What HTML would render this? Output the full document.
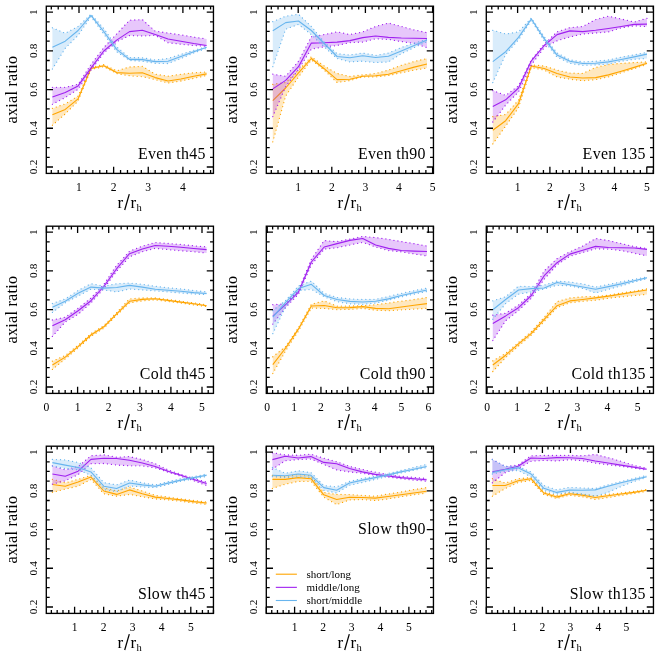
<!DOCTYPE html>
<html><head><meta charset="utf-8"><title>axial ratio</title>
<style>
html,body{margin:0;padding:0;background:#fff;}
svg{display:block;font-family:"Liberation Serif",serif;will-change:transform;}
text{fill:#000;}
</style></head>
<body>
<svg width="660" height="660" viewBox="0 0 660 660">
<rect width="660" height="660" fill="#fff"/>
<g transform="translate(0,0)">
<polygon points="52.4,108.4 65.25,103.9 78.1,96.1 90.95,67.4 103.8,64.6 116.65,70.8 129.5,67 142.35,66.3 155.2,74.2 168.05,76.2 180.9,74.2 193.75,72.8 206.6,71.9 206.6,75.5 193.75,78.3 180.9,81 168.05,83 155.2,79.6 142.35,76.6 129.5,75.8 116.65,73.5 103.8,66.7 90.95,69.5 78.1,100.9 65.25,113.9 52.4,125.2" fill="#ffa500" fill-opacity="0.25"/>
<polyline points="52.4,108.4 65.25,103.9 78.1,96.1 90.95,67.4 103.8,64.6 116.65,70.8 129.5,67 142.35,66.3 155.2,74.2 168.05,76.2 180.9,74.2 193.75,72.8 206.6,71.9" fill="none" stroke="#ffa500" stroke-width="1.28" stroke-dasharray="0.01 4.05" stroke-linecap="round"/>
<polyline points="52.4,125.2 65.25,113.9 78.1,100.9 90.95,69.5 103.8,66.7 116.65,73.5 129.5,75.8 142.35,76.6 155.2,79.6 168.05,83 180.9,81 193.75,78.3 206.6,75.5" fill="none" stroke="#ffa500" stroke-width="1.28" stroke-dasharray="0.01 4.05" stroke-linecap="round"/>
<polyline points="52.4,114.8 65.25,109.4 78.1,98.9 90.95,68.5 103.8,65.7 116.65,72.6 129.5,73.3 142.35,72.8 155.2,77.6 168.05,81 180.9,79 193.75,76.2 206.6,73.9" fill="none" stroke="#ffa500" stroke-width="1.1" stroke-linejoin="round"/>
<polygon points="52.4,87.3 65.25,87.3 78.1,84.3 90.95,64.6 103.8,47.6 116.65,34 129.5,20.3 142.35,19.6 155.2,31.2 168.05,33 180.9,34.9 193.75,37.1 206.6,39 206.6,46.2 193.75,45.5 180.9,44.2 168.05,42.8 155.2,35.3 142.35,36 129.5,35.6 116.65,41.7 103.8,53 90.95,70.2 78.1,89.3 65.25,97.5 52.4,104.3" fill="#a020f0" fill-opacity="0.25"/>
<polyline points="52.4,87.3 65.25,87.3 78.1,84.3 90.95,64.6 103.8,47.6 116.65,34 129.5,20.3 142.35,19.6 155.2,31.2 168.05,33 180.9,34.9 193.75,37.1 206.6,39" fill="none" stroke="#a020f0" stroke-width="1.28" stroke-dasharray="0.01 4.05" stroke-linecap="round"/>
<polyline points="52.4,104.3 65.25,97.5 78.1,89.3 90.95,70.2 103.8,53 116.65,41.7 129.5,35.6 142.35,36 155.2,35.3 168.05,42.8 180.9,44.2 193.75,45.5 206.6,46.2" fill="none" stroke="#a020f0" stroke-width="1.28" stroke-dasharray="0.01 4.05" stroke-linecap="round"/>
<polyline points="52.4,97.1 65.25,92.5 78.1,85.9 90.95,68.1 103.8,51 116.65,40.1 129.5,31.6 142.35,30.3 155.2,34.6 168.05,39 180.9,41.2 193.75,43.5 206.6,45.5" fill="none" stroke="#a020f0" stroke-width="1.1" stroke-linejoin="round"/>
<polygon points="52.4,27.8 65.25,33.3 78.1,26.5 90.95,14.2 103.8,28.5 116.65,46.9 129.5,57.6 142.35,57.8 155.2,59.9 168.05,58.5 180.9,54.4 193.75,50.3 206.6,46.9 206.6,48.3 193.75,53 180.9,58.5 168.05,63.5 155.2,63.3 142.35,61.2 129.5,60.4 116.65,51.7 103.8,34 90.95,16.6 78.1,35.3 65.25,48.3 52.4,69" fill="#68b5ee" fill-opacity="0.25"/>
<polyline points="52.4,27.8 65.25,33.3 78.1,26.5 90.95,14.2 103.8,28.5 116.65,46.9 129.5,57.6 142.35,57.8 155.2,59.9 168.05,58.5 180.9,54.4 193.75,50.3 206.6,46.9" fill="none" stroke="#68b5ee" stroke-width="1.28" stroke-dasharray="0.01 4.05" stroke-linecap="round"/>
<polyline points="52.4,69 65.25,48.3 78.1,35.3 90.95,16.6 103.8,34 116.65,51.7 129.5,60.4 142.35,61.2 155.2,63.3 168.05,63.5 180.9,58.5 193.75,53 206.6,48.3" fill="none" stroke="#68b5ee" stroke-width="1.28" stroke-dasharray="0.01 4.05" stroke-linecap="round"/>
<polyline points="52.4,47.3 65.25,41.2 78.1,30.5 90.95,15.3 103.8,31.5 116.65,49.4 129.5,59.4 142.35,59.6 155.2,61.6 168.05,61.2 180.9,56.5 193.75,51.7 206.6,47.3" fill="none" stroke="#68b5ee" stroke-width="1.1" stroke-linejoin="round"/>
<path d="M46.3 166.98h6.7M213.45 166.98h-6.7M46.3 157.3h3.4M213.45 157.3h-3.4M46.3 147.62h3.4M213.45 147.62h-3.4M46.3 137.94h3.4M213.45 137.94h-3.4M46.3 128.26h6.7M213.45 128.26h-6.7M46.3 118.58h3.4M213.45 118.58h-3.4M46.3 108.9h3.4M213.45 108.9h-3.4M46.3 99.22h3.4M213.45 99.22h-3.4M46.3 89.54h6.7M213.45 89.54h-6.7M46.3 79.86h3.4M213.45 79.86h-3.4M46.3 70.18h3.4M213.45 70.18h-3.4M46.3 60.5h3.4M213.45 60.5h-3.4M46.3 50.82h6.7M213.45 50.82h-6.7M46.3 41.14h3.4M213.45 41.14h-3.4M46.3 31.46h3.4M213.45 31.46h-3.4M46.3 21.78h3.4M213.45 21.78h-3.4M46.3 12.1h6.7M213.45 12.1h-6.7M51.3 173.4v-3.4M51.3 6.2v3.4M58.22 173.4v-3.4M58.22 6.2v3.4M65.15 173.4v-3.4M65.15 6.2v3.4M72.07 173.4v-3.4M72.07 6.2v3.4M79 173.4v-6.7M79 6.2v6.7M85.93 173.4v-3.4M85.93 6.2v3.4M92.85 173.4v-3.4M92.85 6.2v3.4M99.78 173.4v-3.4M99.78 6.2v3.4M106.7 173.4v-3.4M106.7 6.2v3.4M113.63 173.4v-6.7M113.63 6.2v6.7M120.56 173.4v-3.4M120.56 6.2v3.4M127.48 173.4v-3.4M127.48 6.2v3.4M134.41 173.4v-3.4M134.41 6.2v3.4M141.33 173.4v-3.4M141.33 6.2v3.4M148.26 173.4v-6.7M148.26 6.2v6.7M155.19 173.4v-3.4M155.19 6.2v3.4M162.11 173.4v-3.4M162.11 6.2v3.4M169.04 173.4v-3.4M169.04 6.2v3.4M175.96 173.4v-3.4M175.96 6.2v3.4M182.89 173.4v-6.7M182.89 6.2v6.7M189.82 173.4v-3.4M189.82 6.2v3.4M196.74 173.4v-3.4M196.74 6.2v3.4M203.67 173.4v-3.4M203.67 6.2v3.4M210.59 173.4v-3.4M210.59 6.2v3.4" stroke="#000" stroke-width="1.3" fill="none"/>
<rect x="46.3" y="6.2" width="167.15" height="167.2" fill="none" stroke="#000" stroke-width="1.35"/>
<text transform="translate(37.0,12.1) rotate(-90)" text-anchor="middle" font-size="11.3" >1</text>
<text transform="translate(37.0,50.82) rotate(-90)" text-anchor="middle" font-size="11.3" textLength="14.55" lengthAdjust="spacing">0.8</text>
<text transform="translate(37.0,89.54) rotate(-90)" text-anchor="middle" font-size="11.3" textLength="14.55" lengthAdjust="spacing">0.6</text>
<text transform="translate(37.0,128.26) rotate(-90)" text-anchor="middle" font-size="11.3" textLength="14.55" lengthAdjust="spacing">0.4</text>
<text transform="translate(37.0,166.98) rotate(-90)" text-anchor="middle" font-size="11.3" textLength="14.55" lengthAdjust="spacing">0.2</text>
<text x="79" y="190.8" text-anchor="middle" font-size="11.6">1</text>
<text x="113.63" y="190.8" text-anchor="middle" font-size="11.6">2</text>
<text x="148.26" y="190.8" text-anchor="middle" font-size="11.6">3</text>
<text x="182.89" y="190.8" text-anchor="middle" font-size="11.6">4</text>
<text transform="translate(17.0,89.7) rotate(-90)" text-anchor="middle" font-size="16.2" textLength="67.63" lengthAdjust="spacing">axial ratio</text>
<g font-size="17"><text x="117.5" y="207.7">r</text><path d="M124.7 210L129.3 194.2" stroke="#000" stroke-width="1.25" fill="none"/><text x="130.6" y="207.7">r</text><text x="136.5" y="210.6" font-size="10.6">h</text></g>
<text x="205.4" y="158.7" text-anchor="end" font-size="15.9" textLength="67.38" lengthAdjust="spacing">Even th45</text>
</g>
<g transform="translate(220,0)">
<polygon points="52.8,84.3 65.65,82.5 78.5,70.2 91.35,56.7 104.2,66 117.05,73.5 129.9,76.5 142.75,74.9 155.6,73.5 168.45,70.1 181.3,65.3 194.15,61.6 207,58.5 207,68 194.15,70.1 181.3,72.8 168.45,75.5 155.6,76.9 142.75,76.9 129.9,80.6 117.05,82.4 104.2,70.1 91.35,59.9 78.5,77 65.65,96.1 52.8,141.8" fill="#ffa500" fill-opacity="0.25"/>
<polyline points="52.8,84.3 65.65,82.5 78.5,70.2 91.35,56.7 104.2,66 117.05,73.5 129.9,76.5 142.75,74.9 155.6,73.5 168.45,70.1 181.3,65.3 194.15,61.6 207,58.5" fill="none" stroke="#ffa500" stroke-width="1.28" stroke-dasharray="0.01 4.05" stroke-linecap="round"/>
<polyline points="52.8,141.8 65.65,96.1 78.5,77 91.35,59.9 104.2,70.1 117.05,82.4 129.9,80.6 142.75,76.9 155.6,76.9 168.45,75.5 181.3,72.8 194.15,70.1 207,68" fill="none" stroke="#ffa500" stroke-width="1.28" stroke-dasharray="0.01 4.05" stroke-linecap="round"/>
<polyline points="52.8,100.6 65.65,88 78.5,72.9 91.35,58.5 104.2,68.7 117.05,79.6 129.9,79.3 142.75,76.2 155.6,75.8 168.45,74.2 181.3,70.8 194.15,67.1 207,64" fill="none" stroke="#ffa500" stroke-width="1.1" stroke-linejoin="round"/>
<polygon points="52.8,74.2 65.65,76.3 78.5,61.3 91.35,36.7 104.2,34.6 117.05,31.9 129.9,34.5 142.75,31.9 155.6,26.5 168.45,23 181.3,26.5 194.15,29.9 207,32.6 207,47.6 194.15,43.5 181.3,41.5 168.45,39.4 155.6,38.7 142.75,42.1 129.9,42.5 117.05,45.5 104.2,46.9 91.35,49 78.5,69.5 65.65,86.6 52.8,116.6" fill="#a020f0" fill-opacity="0.25"/>
<polyline points="52.8,74.2 65.65,76.3 78.5,61.3 91.35,36.7 104.2,34.6 117.05,31.9 129.9,34.5 142.75,31.9 155.6,26.5 168.45,23 181.3,26.5 194.15,29.9 207,32.6" fill="none" stroke="#a020f0" stroke-width="1.28" stroke-dasharray="0.01 4.05" stroke-linecap="round"/>
<polyline points="52.8,116.6 65.65,86.6 78.5,69.5 91.35,49 104.2,46.9 117.05,45.5 129.9,42.5 142.75,42.1 155.6,38.7 168.45,39.4 181.3,41.5 194.15,43.5 207,47.6" fill="none" stroke="#a020f0" stroke-width="1.28" stroke-dasharray="0.01 4.05" stroke-linecap="round"/>
<polyline points="52.8,88.9 65.65,80.4 78.5,66.7 91.35,43.1 104.2,42.8 117.05,42.1 129.9,40.6 142.75,37.6 155.6,36 168.45,37.4 181.3,38 194.15,38.3 207,38.5" fill="none" stroke="#a020f0" stroke-width="1.1" stroke-linejoin="round"/>
<polygon points="52.8,21.7 65.65,16.2 78.5,14.2 91.35,26.5 104.2,42.1 117.05,53.7 129.9,55 142.75,53 155.6,55.4 168.45,53 181.3,47.6 194.15,43.1 207,39.4 207,41.7 194.15,47.6 181.3,53.7 168.45,61.9 155.6,62.6 142.75,61.2 129.9,61.9 117.05,58.5 104.2,46.9 91.35,34.6 78.5,24.4 65.65,29.2 52.8,66.7" fill="#68b5ee" fill-opacity="0.25"/>
<polyline points="52.8,21.7 65.65,16.2 78.5,14.2 91.35,26.5 104.2,42.1 117.05,53.7 129.9,55 142.75,53 155.6,55.4 168.45,53 181.3,47.6 194.15,43.1 207,39.4" fill="none" stroke="#68b5ee" stroke-width="1.28" stroke-dasharray="0.01 4.05" stroke-linecap="round"/>
<polyline points="52.8,66.7 65.65,29.2 78.5,24.4 91.35,34.6 104.2,46.9 117.05,58.5 129.9,61.9 142.75,61.2 155.6,62.6 168.45,61.9 181.3,53.7 194.15,47.6 207,41.7" fill="none" stroke="#68b5ee" stroke-width="1.28" stroke-dasharray="0.01 4.05" stroke-linecap="round"/>
<polyline points="52.8,30.8 65.65,22.6 78.5,21 91.35,30.5 104.2,43.5 117.05,56.5 129.9,57.8 142.75,55.8 155.6,57.5 168.45,56.2 181.3,51 194.15,45.5 207,40.1" fill="none" stroke="#68b5ee" stroke-width="1.1" stroke-linejoin="round"/>
<path d="M46.3 166.98h6.7M213.45 166.98h-6.7M46.3 157.3h3.4M213.45 157.3h-3.4M46.3 147.62h3.4M213.45 147.62h-3.4M46.3 137.94h3.4M213.45 137.94h-3.4M46.3 128.26h6.7M213.45 128.26h-6.7M46.3 118.58h3.4M213.45 118.58h-3.4M46.3 108.9h3.4M213.45 108.9h-3.4M46.3 99.22h3.4M213.45 99.22h-3.4M46.3 89.54h6.7M213.45 89.54h-6.7M46.3 79.86h3.4M213.45 79.86h-3.4M46.3 70.18h3.4M213.45 70.18h-3.4M46.3 60.5h3.4M213.45 60.5h-3.4M46.3 50.82h6.7M213.45 50.82h-6.7M46.3 41.14h3.4M213.45 41.14h-3.4M46.3 31.46h3.4M213.45 31.46h-3.4M46.3 21.78h3.4M213.45 21.78h-3.4M46.3 12.1h6.7M213.45 12.1h-6.7M51.32 173.4v-3.4M51.32 6.2v3.4M58.04 173.4v-3.4M58.04 6.2v3.4M64.76 173.4v-3.4M64.76 6.2v3.4M71.48 173.4v-3.4M71.48 6.2v3.4M78.2 173.4v-6.7M78.2 6.2v6.7M84.92 173.4v-3.4M84.92 6.2v3.4M91.64 173.4v-3.4M91.64 6.2v3.4M98.36 173.4v-3.4M98.36 6.2v3.4M105.08 173.4v-3.4M105.08 6.2v3.4M111.8 173.4v-6.7M111.8 6.2v6.7M118.52 173.4v-3.4M118.52 6.2v3.4M125.24 173.4v-3.4M125.24 6.2v3.4M131.96 173.4v-3.4M131.96 6.2v3.4M138.68 173.4v-3.4M138.68 6.2v3.4M145.4 173.4v-6.7M145.4 6.2v6.7M152.12 173.4v-3.4M152.12 6.2v3.4M158.84 173.4v-3.4M158.84 6.2v3.4M165.56 173.4v-3.4M165.56 6.2v3.4M172.28 173.4v-3.4M172.28 6.2v3.4M179 173.4v-6.7M179 6.2v6.7M185.72 173.4v-3.4M185.72 6.2v3.4M192.44 173.4v-3.4M192.44 6.2v3.4M199.16 173.4v-3.4M199.16 6.2v3.4M205.88 173.4v-3.4M205.88 6.2v3.4M212.6 173.4v-6.7M212.6 6.2v6.7" stroke="#000" stroke-width="1.3" fill="none"/>
<rect x="46.3" y="6.2" width="167.15" height="167.2" fill="none" stroke="#000" stroke-width="1.35"/>
<text transform="translate(37.0,12.1) rotate(-90)" text-anchor="middle" font-size="11.3" >1</text>
<text transform="translate(37.0,50.82) rotate(-90)" text-anchor="middle" font-size="11.3" textLength="14.55" lengthAdjust="spacing">0.8</text>
<text transform="translate(37.0,89.54) rotate(-90)" text-anchor="middle" font-size="11.3" textLength="14.55" lengthAdjust="spacing">0.6</text>
<text transform="translate(37.0,128.26) rotate(-90)" text-anchor="middle" font-size="11.3" textLength="14.55" lengthAdjust="spacing">0.4</text>
<text transform="translate(37.0,166.98) rotate(-90)" text-anchor="middle" font-size="11.3" textLength="14.55" lengthAdjust="spacing">0.2</text>
<text x="78.2" y="190.8" text-anchor="middle" font-size="11.6">1</text>
<text x="111.8" y="190.8" text-anchor="middle" font-size="11.6">2</text>
<text x="145.4" y="190.8" text-anchor="middle" font-size="11.6">3</text>
<text x="179" y="190.8" text-anchor="middle" font-size="11.6">4</text>
<text x="212.6" y="190.8" text-anchor="middle" font-size="11.6">5</text>
<text transform="translate(17.0,89.7) rotate(-90)" text-anchor="middle" font-size="16.2" textLength="67.63" lengthAdjust="spacing">axial ratio</text>
<g font-size="17"><text x="117.5" y="207.7">r</text><path d="M124.7 210L129.3 194.2" stroke="#000" stroke-width="1.25" fill="none"/><text x="130.6" y="207.7">r</text><text x="136.5" y="210.6" font-size="10.6">h</text></g>
<text x="205.4" y="158.7" text-anchor="end" font-size="15.9" textLength="67.38" lengthAdjust="spacing">Even th90</text>
</g>
<g transform="translate(440,0)">
<polygon points="52.8,116.6 65.65,114.5 78.5,100.2 91.35,64.8 104.2,66 117.05,70.1 129.9,73.1 142.75,73.5 155.6,67.4 168.45,64.6 181.3,63.3 194.15,62.6 207,61.9 207,64.4 194.15,68.7 181.3,72.8 168.45,76.9 155.6,79.6 142.75,80.7 129.9,79.2 117.05,76.9 104.2,70.1 91.35,67.5 78.5,107.7 65.65,126.1 52.8,143.9" fill="#ffa500" fill-opacity="0.25"/>
<polyline points="52.8,116.6 65.65,114.5 78.5,100.2 91.35,64.8 104.2,66 117.05,70.1 129.9,73.1 142.75,73.5 155.6,67.4 168.45,64.6 181.3,63.3 194.15,62.6 207,61.9" fill="none" stroke="#ffa500" stroke-width="1.28" stroke-dasharray="0.01 4.05" stroke-linecap="round"/>
<polyline points="52.8,143.9 65.65,126.1 78.5,107.7 91.35,67.5 104.2,70.1 117.05,76.9 129.9,79.2 142.75,80.7 155.6,79.6 168.45,76.9 181.3,72.8 194.15,68.7 207,64.4" fill="none" stroke="#ffa500" stroke-width="1.28" stroke-dasharray="0.01 4.05" stroke-linecap="round"/>
<polyline points="52.8,130.2 65.65,120.7 78.5,103.6 91.35,66 104.2,68.5 117.05,73.5 129.9,77 142.75,78 155.6,77.6 168.45,74.9 181.3,71.2 194.15,67.4 207,63.3" fill="none" stroke="#ffa500" stroke-width="1.1" stroke-linejoin="round"/>
<polygon points="52.8,90.6 65.65,95.4 78.5,85.9 91.35,59.9 104.2,44.2 117.05,31.9 129.9,27.6 142.75,26.5 155.6,19.6 168.45,16.2 181.3,19 194.15,22.1 207,18.3 207,26.5 194.15,25.8 181.3,27.8 168.45,31.9 155.6,33 142.75,34 129.9,36.9 117.05,40.8 104.2,47.6 91.35,64.7 78.5,92 65.65,105 52.8,122" fill="#a020f0" fill-opacity="0.25"/>
<polyline points="52.8,90.6 65.65,95.4 78.5,85.9 91.35,59.9 104.2,44.2 117.05,31.9 129.9,27.6 142.75,26.5 155.6,19.6 168.45,16.2 181.3,19 194.15,22.1 207,18.3" fill="none" stroke="#a020f0" stroke-width="1.28" stroke-dasharray="0.01 4.05" stroke-linecap="round"/>
<polyline points="52.8,122 65.65,105 78.5,92 91.35,64.7 104.2,47.6 117.05,40.8 129.9,36.9 142.75,34 155.6,33 168.45,31.9 181.3,27.8 194.15,25.8 207,26.5" fill="none" stroke="#a020f0" stroke-width="1.28" stroke-dasharray="0.01 4.05" stroke-linecap="round"/>
<polyline points="52.8,106.4 65.65,99.8 78.5,88 91.35,60.8 104.2,45.5 117.05,34.6 129.9,30.9 142.75,31.6 155.6,30.3 168.45,28.5 181.3,26.5 194.15,24.4 207,24.1" fill="none" stroke="#a020f0" stroke-width="1.1" stroke-linejoin="round"/>
<polygon points="52.8,30.3 65.65,34 78.5,31.9 91.35,18 104.2,36.7 117.05,53 129.9,59.9 142.75,61.9 155.6,61.2 168.45,59.9 181.3,57.1 194.15,54.8 207,52.4 207,58.5 194.15,59.2 181.3,61.2 168.45,64 155.6,64.9 142.75,65.3 129.9,63.3 117.05,57.1 104.2,40.8 91.35,20.3 78.5,39.8 65.65,54.4 52.8,82.6" fill="#68b5ee" fill-opacity="0.25"/>
<polyline points="52.8,30.3 65.65,34 78.5,31.9 91.35,18 104.2,36.7 117.05,53 129.9,59.9 142.75,61.9 155.6,61.2 168.45,59.9 181.3,57.1 194.15,54.8 207,52.4" fill="none" stroke="#68b5ee" stroke-width="1.28" stroke-dasharray="0.01 4.05" stroke-linecap="round"/>
<polyline points="52.8,82.6 65.65,54.4 78.5,39.8 91.35,20.3 104.2,40.8 117.05,57.1 129.9,63.3 142.75,65.3 155.6,64.9 168.45,64 181.3,61.2 194.15,59.2 207,58.5" fill="none" stroke="#68b5ee" stroke-width="1.28" stroke-dasharray="0.01 4.05" stroke-linecap="round"/>
<polyline points="52.8,61.6 65.65,51.7 78.5,37.4 91.35,19 104.2,38.7 117.05,55.1 129.9,61.2 142.75,63.5 155.6,63.3 168.45,61.9 181.3,59.5 194.15,56.9 207,54.1" fill="none" stroke="#68b5ee" stroke-width="1.1" stroke-linejoin="round"/>
<path d="M46.3 166.98h6.7M213.45 166.98h-6.7M46.3 157.3h3.4M213.45 157.3h-3.4M46.3 147.62h3.4M213.45 147.62h-3.4M46.3 137.94h3.4M213.45 137.94h-3.4M46.3 128.26h6.7M213.45 128.26h-6.7M46.3 118.58h3.4M213.45 118.58h-3.4M46.3 108.9h3.4M213.45 108.9h-3.4M46.3 99.22h3.4M213.45 99.22h-3.4M46.3 89.54h6.7M213.45 89.54h-6.7M46.3 79.86h3.4M213.45 79.86h-3.4M46.3 70.18h3.4M213.45 70.18h-3.4M46.3 60.5h3.4M213.45 60.5h-3.4M46.3 50.82h6.7M213.45 50.82h-6.7M46.3 41.14h3.4M213.45 41.14h-3.4M46.3 31.46h3.4M213.45 31.46h-3.4M46.3 21.78h3.4M213.45 21.78h-3.4M46.3 12.1h6.7M213.45 12.1h-6.7M51.76 173.4v-3.4M51.76 6.2v3.4M58.22 173.4v-3.4M58.22 6.2v3.4M64.68 173.4v-3.4M64.68 6.2v3.4M71.14 173.4v-3.4M71.14 6.2v3.4M77.6 173.4v-6.7M77.6 6.2v6.7M84.06 173.4v-3.4M84.06 6.2v3.4M90.52 173.4v-3.4M90.52 6.2v3.4M96.98 173.4v-3.4M96.98 6.2v3.4M103.44 173.4v-3.4M103.44 6.2v3.4M109.9 173.4v-6.7M109.9 6.2v6.7M116.36 173.4v-3.4M116.36 6.2v3.4M122.82 173.4v-3.4M122.82 6.2v3.4M129.28 173.4v-3.4M129.28 6.2v3.4M135.74 173.4v-3.4M135.74 6.2v3.4M142.2 173.4v-6.7M142.2 6.2v6.7M148.66 173.4v-3.4M148.66 6.2v3.4M155.12 173.4v-3.4M155.12 6.2v3.4M161.58 173.4v-3.4M161.58 6.2v3.4M168.04 173.4v-3.4M168.04 6.2v3.4M174.5 173.4v-6.7M174.5 6.2v6.7M180.96 173.4v-3.4M180.96 6.2v3.4M187.42 173.4v-3.4M187.42 6.2v3.4M193.88 173.4v-3.4M193.88 6.2v3.4M200.34 173.4v-3.4M200.34 6.2v3.4M206.8 173.4v-6.7M206.8 6.2v6.7M213.26 173.4v-3.4M213.26 6.2v3.4" stroke="#000" stroke-width="1.3" fill="none"/>
<rect x="46.3" y="6.2" width="167.15" height="167.2" fill="none" stroke="#000" stroke-width="1.35"/>
<text transform="translate(37.0,12.1) rotate(-90)" text-anchor="middle" font-size="11.3" >1</text>
<text transform="translate(37.0,50.82) rotate(-90)" text-anchor="middle" font-size="11.3" textLength="14.55" lengthAdjust="spacing">0.8</text>
<text transform="translate(37.0,89.54) rotate(-90)" text-anchor="middle" font-size="11.3" textLength="14.55" lengthAdjust="spacing">0.6</text>
<text transform="translate(37.0,128.26) rotate(-90)" text-anchor="middle" font-size="11.3" textLength="14.55" lengthAdjust="spacing">0.4</text>
<text transform="translate(37.0,166.98) rotate(-90)" text-anchor="middle" font-size="11.3" textLength="14.55" lengthAdjust="spacing">0.2</text>
<text x="77.6" y="190.8" text-anchor="middle" font-size="11.6">1</text>
<text x="109.9" y="190.8" text-anchor="middle" font-size="11.6">2</text>
<text x="142.2" y="190.8" text-anchor="middle" font-size="11.6">3</text>
<text x="174.5" y="190.8" text-anchor="middle" font-size="11.6">4</text>
<text x="206.8" y="190.8" text-anchor="middle" font-size="11.6">5</text>
<text transform="translate(17.0,89.7) rotate(-90)" text-anchor="middle" font-size="16.2" textLength="67.63" lengthAdjust="spacing">axial ratio</text>
<g font-size="17"><text x="117.5" y="207.7">r</text><path d="M124.7 210L129.3 194.2" stroke="#000" stroke-width="1.25" fill="none"/><text x="130.6" y="207.7">r</text><text x="136.5" y="210.6" font-size="10.6">h</text></g>
<text x="205.4" y="158.7" text-anchor="end" font-size="15.9" textLength="62.79" lengthAdjust="spacing">Even 135</text>
</g>
<g transform="translate(0,220)">
<polygon points="52.4,141.2 65.25,135.5 78.1,125.2 90.95,113.6 103.8,105.7 116.65,92.5 129.5,78.9 142.35,78 155.2,78 168.05,79.4 180.9,81.2 193.75,82.8 206.6,84.9 206.6,86.6 193.75,84.9 180.9,83.1 168.05,81.5 155.2,79.8 142.35,80.8 129.5,82.9 116.65,95.2 103.8,108.2 90.95,116.4 78.1,128 65.25,138.9 52.4,149.4" fill="#ffa500" fill-opacity="0.25"/>
<polyline points="52.4,141.2 65.25,135.5 78.1,125.2 90.95,113.6 103.8,105.7 116.65,92.5 129.5,78.9 142.35,78 155.2,78 168.05,79.4 180.9,81.2 193.75,82.8 206.6,84.9" fill="none" stroke="#ffa500" stroke-width="1.28" stroke-dasharray="0.01 4.05" stroke-linecap="round"/>
<polyline points="52.4,149.4 65.25,138.9 78.1,128 90.95,116.4 103.8,108.2 116.65,95.2 129.5,82.9 142.35,80.8 155.2,79.8 168.05,81.5 180.9,83.1 193.75,84.9 206.6,86.6" fill="none" stroke="#ffa500" stroke-width="1.28" stroke-dasharray="0.01 4.05" stroke-linecap="round"/>
<polyline points="52.4,145 65.25,137.1 78.1,126.6 90.95,115 103.8,106.8 116.65,93.9 129.5,81.3 142.35,79.4 155.2,78.7 168.05,80.4 180.9,82.1 193.75,83.8 206.6,85.8" fill="none" stroke="#ffa500" stroke-width="1.1" stroke-linejoin="round"/>
<polygon points="52.4,100 65.25,97.2 78.1,88.3 90.95,78.1 103.8,64.4 116.65,45.3 129.5,31.3 142.35,26.2 155.2,22.5 168.05,23.5 180.9,24.5 193.75,25.8 206.6,26.9 206.6,33 193.75,31.7 180.9,30.7 168.05,29.6 155.2,28.3 142.35,31.7 129.5,36.8 116.65,51.2 103.8,68.5 90.95,82.9 78.1,94.3 65.25,102 52.4,116.4" fill="#a020f0" fill-opacity="0.25"/>
<polyline points="52.4,100 65.25,97.2 78.1,88.3 90.95,78.1 103.8,64.4 116.65,45.3 129.5,31.3 142.35,26.2 155.2,22.5 168.05,23.5 180.9,24.5 193.75,25.8 206.6,26.9" fill="none" stroke="#a020f0" stroke-width="1.28" stroke-dasharray="0.01 4.05" stroke-linecap="round"/>
<polyline points="52.4,116.4 65.25,102 78.1,94.3 90.95,82.9 103.8,68.5 116.65,51.2 129.5,36.8 142.35,31.7 155.2,28.3 168.05,29.6 180.9,30.7 193.75,31.7 206.6,33" fill="none" stroke="#a020f0" stroke-width="1.28" stroke-dasharray="0.01 4.05" stroke-linecap="round"/>
<polyline points="52.4,105.8 65.25,99.8 78.1,90.8 90.95,80.7 103.8,66.5 116.65,48.7 129.5,33.7 142.35,29 155.2,25.5 168.05,26.2 180.9,27.2 193.75,28.5 206.6,29.6" fill="none" stroke="#a020f0" stroke-width="1.1" stroke-linejoin="round"/>
<polygon points="52.4,83.5 65.25,79 78.1,70.5 90.95,63.7 103.8,66.2 116.65,63.7 129.5,63 142.35,64.4 155.2,66.2 168.05,67.8 180.9,68.9 193.75,70.5 206.6,71.9 206.6,74.6 193.75,74 180.9,73 168.05,71.9 155.2,70.8 142.35,69.9 129.5,69 116.65,71.9 103.8,69.9 90.95,69.2 78.1,76 65.25,82.8 52.4,92.4" fill="#68b5ee" fill-opacity="0.25"/>
<polyline points="52.4,83.5 65.25,79 78.1,70.5 90.95,63.7 103.8,66.2 116.65,63.7 129.5,63 142.35,64.4 155.2,66.2 168.05,67.8 180.9,68.9 193.75,70.5 206.6,71.9" fill="none" stroke="#68b5ee" stroke-width="1.28" stroke-dasharray="0.01 4.05" stroke-linecap="round"/>
<polyline points="52.4,92.4 65.25,82.8 78.1,76 90.95,69.2 103.8,69.9 116.65,71.9 129.5,69 142.35,69.9 155.2,70.8 168.05,71.9 180.9,73 193.75,74 206.6,74.6" fill="none" stroke="#68b5ee" stroke-width="1.28" stroke-dasharray="0.01 4.05" stroke-linecap="round"/>
<polyline points="52.4,87.2 65.25,81.2 78.1,73.3 90.95,67.1 103.8,68.1 116.65,67.5 129.5,65.4 142.35,67.1 155.2,69.2 168.05,70.3 180.9,71.2 193.75,72.6 206.6,73.5" fill="none" stroke="#68b5ee" stroke-width="1.1" stroke-linejoin="round"/>
<path d="M46.3 166.98h6.7M213.45 166.98h-6.7M46.3 157.3h3.4M213.45 157.3h-3.4M46.3 147.62h3.4M213.45 147.62h-3.4M46.3 137.94h3.4M213.45 137.94h-3.4M46.3 128.26h6.7M213.45 128.26h-6.7M46.3 118.58h3.4M213.45 118.58h-3.4M46.3 108.9h3.4M213.45 108.9h-3.4M46.3 99.22h3.4M213.45 99.22h-3.4M46.3 89.54h6.7M213.45 89.54h-6.7M46.3 79.86h3.4M213.45 79.86h-3.4M46.3 70.18h3.4M213.45 70.18h-3.4M46.3 60.5h3.4M213.45 60.5h-3.4M46.3 50.82h6.7M213.45 50.82h-6.7M46.3 41.14h3.4M213.45 41.14h-3.4M46.3 31.46h3.4M213.45 31.46h-3.4M46.3 21.78h3.4M213.45 21.78h-3.4M46.3 12.1h6.7M213.45 12.1h-6.7M46.5 173.4v-6.7M46.5 6.2v6.7M52.72 173.4v-3.4M52.72 6.2v3.4M58.94 173.4v-3.4M58.94 6.2v3.4M65.16 173.4v-3.4M65.16 6.2v3.4M71.38 173.4v-3.4M71.38 6.2v3.4M77.6 173.4v-6.7M77.6 6.2v6.7M83.82 173.4v-3.4M83.82 6.2v3.4M90.04 173.4v-3.4M90.04 6.2v3.4M96.26 173.4v-3.4M96.26 6.2v3.4M102.48 173.4v-3.4M102.48 6.2v3.4M108.7 173.4v-6.7M108.7 6.2v6.7M114.92 173.4v-3.4M114.92 6.2v3.4M121.14 173.4v-3.4M121.14 6.2v3.4M127.36 173.4v-3.4M127.36 6.2v3.4M133.58 173.4v-3.4M133.58 6.2v3.4M139.8 173.4v-6.7M139.8 6.2v6.7M146.02 173.4v-3.4M146.02 6.2v3.4M152.24 173.4v-3.4M152.24 6.2v3.4M158.46 173.4v-3.4M158.46 6.2v3.4M164.68 173.4v-3.4M164.68 6.2v3.4M170.9 173.4v-6.7M170.9 6.2v6.7M177.12 173.4v-3.4M177.12 6.2v3.4M183.34 173.4v-3.4M183.34 6.2v3.4M189.56 173.4v-3.4M189.56 6.2v3.4M195.78 173.4v-3.4M195.78 6.2v3.4M202 173.4v-6.7M202 6.2v6.7M208.22 173.4v-3.4M208.22 6.2v3.4" stroke="#000" stroke-width="1.3" fill="none"/>
<rect x="46.3" y="6.2" width="167.15" height="167.2" fill="none" stroke="#000" stroke-width="1.35"/>
<text transform="translate(37.0,12.1) rotate(-90)" text-anchor="middle" font-size="11.3" >1</text>
<text transform="translate(37.0,50.82) rotate(-90)" text-anchor="middle" font-size="11.3" textLength="14.55" lengthAdjust="spacing">0.8</text>
<text transform="translate(37.0,89.54) rotate(-90)" text-anchor="middle" font-size="11.3" textLength="14.55" lengthAdjust="spacing">0.6</text>
<text transform="translate(37.0,128.26) rotate(-90)" text-anchor="middle" font-size="11.3" textLength="14.55" lengthAdjust="spacing">0.4</text>
<text transform="translate(37.0,166.98) rotate(-90)" text-anchor="middle" font-size="11.3" textLength="14.55" lengthAdjust="spacing">0.2</text>
<text x="46.5" y="190.8" text-anchor="middle" font-size="11.6">0</text>
<text x="77.6" y="190.8" text-anchor="middle" font-size="11.6">1</text>
<text x="108.7" y="190.8" text-anchor="middle" font-size="11.6">2</text>
<text x="139.8" y="190.8" text-anchor="middle" font-size="11.6">3</text>
<text x="170.9" y="190.8" text-anchor="middle" font-size="11.6">4</text>
<text x="202" y="190.8" text-anchor="middle" font-size="11.6">5</text>
<text transform="translate(17.0,89.7) rotate(-90)" text-anchor="middle" font-size="16.2" textLength="67.63" lengthAdjust="spacing">axial ratio</text>
<g font-size="17"><text x="117.5" y="207.7">r</text><path d="M124.7 210L129.3 194.2" stroke="#000" stroke-width="1.25" fill="none"/><text x="130.6" y="207.7">r</text><text x="136.5" y="210.6" font-size="10.6">h</text></g>
<text x="205.4" y="158.7" text-anchor="end" font-size="15.9" textLength="65.57" lengthAdjust="spacing">Cold th45</text>
</g>
<g transform="translate(220,220)">
<polygon points="52.8,136.8 65.65,126.6 78.5,107.5 91.35,84.3 104.2,80.9 117.05,86.2 129.9,86 142.75,85.7 155.6,84.7 168.45,83 181.3,81.2 194.15,79.5 207,77.5 207,88.4 194.15,89.1 181.3,89.8 168.45,90.7 155.6,90.2 142.75,88.4 129.9,89.4 117.05,89.6 104.2,88.4 91.35,88 78.5,110.9 65.65,130.7 52.8,153.5" fill="#ffa500" fill-opacity="0.25"/>
<polyline points="52.8,136.8 65.65,126.6 78.5,107.5 91.35,84.3 104.2,80.9 117.05,86.2 129.9,86 142.75,85.7 155.6,84.7 168.45,83 181.3,81.2 194.15,79.5 207,77.5" fill="none" stroke="#ffa500" stroke-width="1.28" stroke-dasharray="0.01 4.05" stroke-linecap="round"/>
<polyline points="52.8,153.5 65.65,130.7 78.5,110.9 91.35,88 104.2,88.4 117.05,89.6 129.9,89.4 142.75,88.4 155.6,90.2 168.45,90.7 181.3,89.8 194.15,89.1 207,88.4" fill="none" stroke="#ffa500" stroke-width="1.28" stroke-dasharray="0.01 4.05" stroke-linecap="round"/>
<polyline points="52.8,144.7 65.65,128 78.5,108.9 91.35,86 104.2,85.5 117.05,87.7 129.9,87.6 142.75,86.6 155.6,88.4 168.45,88.8 181.3,87 194.15,85.3 207,83.6" fill="none" stroke="#ffa500" stroke-width="1.1" stroke-linejoin="round"/>
<polygon points="52.8,84.7 65.65,84 78.5,70 91.35,39.3 104.2,20.6 117.05,21.6 129.9,19.1 142.75,16.5 155.6,17.5 168.45,19.3 181.3,21.6 194.15,23.6 207,26.1 207,35.9 194.15,33.9 181.3,31.8 168.45,30.5 155.6,27 142.75,22.3 129.9,25 117.05,27.7 104.2,29.1 91.35,44.8 78.5,74.1 65.65,87.4 52.8,104.1" fill="#a020f0" fill-opacity="0.25"/>
<polyline points="52.8,84.7 65.65,84 78.5,70 91.35,39.3 104.2,20.6 117.05,21.6 129.9,19.1 142.75,16.5 155.6,17.5 168.45,19.3 181.3,21.6 194.15,23.6 207,26.1" fill="none" stroke="#a020f0" stroke-width="1.28" stroke-dasharray="0.01 4.05" stroke-linecap="round"/>
<polyline points="52.8,104.1 65.65,87.4 78.5,74.1 91.35,44.8 104.2,29.1 117.05,27.7 129.9,25 142.75,22.3 155.6,27 168.45,30.5 181.3,31.8 194.15,33.9 207,35.9" fill="none" stroke="#a020f0" stroke-width="1.28" stroke-dasharray="0.01 4.05" stroke-linecap="round"/>
<polyline points="52.8,96.2 65.65,84.7 78.5,72 91.35,42 104.2,27 117.05,23.6 129.9,20.4 142.75,18.5 155.6,25 168.45,28.4 181.3,30.5 194.15,31.1 207,31.5" fill="none" stroke="#a020f0" stroke-width="1.1" stroke-linejoin="round"/>
<polygon points="52.8,90.5 65.65,80.5 78.5,65.9 91.35,61.1 104.2,73.4 117.05,77.5 129.9,78.9 142.75,79.5 155.6,79.3 168.45,76.5 181.3,73.4 194.15,70.7 207,68 207,71.4 194.15,74.1 181.3,76.8 168.45,80.2 155.6,83 142.75,84.3 129.9,83.8 117.05,81.6 104.2,76.8 91.35,69.3 78.5,70.7 65.65,86.7 52.8,113.6" fill="#68b5ee" fill-opacity="0.25"/>
<polyline points="52.8,90.5 65.65,80.5 78.5,65.9 91.35,61.1 104.2,73.4 117.05,77.5 129.9,78.9 142.75,79.5 155.6,79.3 168.45,76.5 181.3,73.4 194.15,70.7 207,68" fill="none" stroke="#68b5ee" stroke-width="1.28" stroke-dasharray="0.01 4.05" stroke-linecap="round"/>
<polyline points="52.8,113.6 65.65,86.7 78.5,70.7 91.35,69.3 104.2,76.8 117.05,81.6 129.9,83.8 142.75,84.3 155.6,83 168.45,80.2 181.3,76.8 194.15,74.1 207,71.4" fill="none" stroke="#68b5ee" stroke-width="1.28" stroke-dasharray="0.01 4.05" stroke-linecap="round"/>
<polyline points="52.8,97.2 65.65,82.3 78.5,68.6 91.35,64.3 104.2,75.5 117.05,79.5 129.9,81.4 142.75,82 155.6,81.2 168.45,78.9 181.3,75.5 194.15,72.7 207,70" fill="none" stroke="#68b5ee" stroke-width="1.1" stroke-linejoin="round"/>
<path d="M46.3 166.98h6.7M213.45 166.98h-6.7M46.3 157.3h3.4M213.45 157.3h-3.4M46.3 147.62h3.4M213.45 147.62h-3.4M46.3 137.94h3.4M213.45 137.94h-3.4M46.3 128.26h6.7M213.45 128.26h-6.7M46.3 118.58h3.4M213.45 118.58h-3.4M46.3 108.9h3.4M213.45 108.9h-3.4M46.3 99.22h3.4M213.45 99.22h-3.4M46.3 89.54h6.7M213.45 89.54h-6.7M46.3 79.86h3.4M213.45 79.86h-3.4M46.3 70.18h3.4M213.45 70.18h-3.4M46.3 60.5h3.4M213.45 60.5h-3.4M46.3 50.82h6.7M213.45 50.82h-6.7M46.3 41.14h3.4M213.45 41.14h-3.4M46.3 31.46h3.4M213.45 31.46h-3.4M46.3 21.78h3.4M213.45 21.78h-3.4M46.3 12.1h6.7M213.45 12.1h-6.7M47.26 173.4v-6.7M47.26 6.2v6.7M52.63 173.4v-3.4M52.63 6.2v3.4M58 173.4v-3.4M58 6.2v3.4M63.36 173.4v-3.4M63.36 6.2v3.4M68.73 173.4v-3.4M68.73 6.2v3.4M74.1 173.4v-6.7M74.1 6.2v6.7M79.47 173.4v-3.4M79.47 6.2v3.4M84.84 173.4v-3.4M84.84 6.2v3.4M90.2 173.4v-3.4M90.2 6.2v3.4M95.57 173.4v-3.4M95.57 6.2v3.4M100.94 173.4v-6.7M100.94 6.2v6.7M106.31 173.4v-3.4M106.31 6.2v3.4M111.68 173.4v-3.4M111.68 6.2v3.4M117.04 173.4v-3.4M117.04 6.2v3.4M122.41 173.4v-3.4M122.41 6.2v3.4M127.78 173.4v-6.7M127.78 6.2v6.7M133.15 173.4v-3.4M133.15 6.2v3.4M138.52 173.4v-3.4M138.52 6.2v3.4M143.88 173.4v-3.4M143.88 6.2v3.4M149.25 173.4v-3.4M149.25 6.2v3.4M154.62 173.4v-6.7M154.62 6.2v6.7M159.99 173.4v-3.4M159.99 6.2v3.4M165.36 173.4v-3.4M165.36 6.2v3.4M170.72 173.4v-3.4M170.72 6.2v3.4M176.09 173.4v-3.4M176.09 6.2v3.4M181.46 173.4v-6.7M181.46 6.2v6.7M186.83 173.4v-3.4M186.83 6.2v3.4M192.2 173.4v-3.4M192.2 6.2v3.4M197.56 173.4v-3.4M197.56 6.2v3.4M202.93 173.4v-3.4M202.93 6.2v3.4M208.3 173.4v-6.7M208.3 6.2v6.7M213.45 173.4v-3.4M213.45 6.2v3.4" stroke="#000" stroke-width="1.3" fill="none"/>
<rect x="46.3" y="6.2" width="167.15" height="167.2" fill="none" stroke="#000" stroke-width="1.35"/>
<text transform="translate(37.0,12.1) rotate(-90)" text-anchor="middle" font-size="11.3" >1</text>
<text transform="translate(37.0,50.82) rotate(-90)" text-anchor="middle" font-size="11.3" textLength="14.55" lengthAdjust="spacing">0.8</text>
<text transform="translate(37.0,89.54) rotate(-90)" text-anchor="middle" font-size="11.3" textLength="14.55" lengthAdjust="spacing">0.6</text>
<text transform="translate(37.0,128.26) rotate(-90)" text-anchor="middle" font-size="11.3" textLength="14.55" lengthAdjust="spacing">0.4</text>
<text transform="translate(37.0,166.98) rotate(-90)" text-anchor="middle" font-size="11.3" textLength="14.55" lengthAdjust="spacing">0.2</text>
<text x="47.26" y="190.8" text-anchor="middle" font-size="11.6">0</text>
<text x="74.1" y="190.8" text-anchor="middle" font-size="11.6">1</text>
<text x="100.94" y="190.8" text-anchor="middle" font-size="11.6">2</text>
<text x="127.78" y="190.8" text-anchor="middle" font-size="11.6">3</text>
<text x="154.62" y="190.8" text-anchor="middle" font-size="11.6">4</text>
<text x="181.46" y="190.8" text-anchor="middle" font-size="11.6">5</text>
<text x="208.3" y="190.8" text-anchor="middle" font-size="11.6">6</text>
<text transform="translate(17.0,89.7) rotate(-90)" text-anchor="middle" font-size="16.2" textLength="67.63" lengthAdjust="spacing">axial ratio</text>
<g font-size="17"><text x="117.5" y="207.7">r</text><path d="M124.7 210L129.3 194.2" stroke="#000" stroke-width="1.25" fill="none"/><text x="130.6" y="207.7">r</text><text x="136.5" y="210.6" font-size="10.6">h</text></g>
<text x="205.4" y="158.7" text-anchor="end" font-size="15.9" textLength="65.57" lengthAdjust="spacing">Cold th90</text>
</g>
<g transform="translate(440,220)">
<polygon points="52.8,140.9 65.65,133.4 78.5,122.5 91.35,111.6 104.2,97.3 117.05,81.6 129.9,78 142.75,76.8 155.6,76.5 168.45,75.2 181.3,73 194.15,71.1 207,68.9 207,74.4 194.15,75.5 181.3,76.8 168.45,78.2 155.6,80.2 142.75,81.2 129.9,82.7 117.05,87.7 104.2,101.4 91.35,115 78.5,125.9 65.65,137.5 52.8,151.5" fill="#ffa500" fill-opacity="0.25"/>
<polyline points="52.8,140.9 65.65,133.4 78.5,122.5 91.35,111.6 104.2,97.3 117.05,81.6 129.9,78 142.75,76.8 155.6,76.5 168.45,75.2 181.3,73 194.15,71.1 207,68.9" fill="none" stroke="#ffa500" stroke-width="1.28" stroke-dasharray="0.01 4.05" stroke-linecap="round"/>
<polyline points="52.8,151.5 65.65,137.5 78.5,125.9 91.35,115 104.2,101.4 117.05,87.7 129.9,82.7 142.75,81.2 155.6,80.2 168.45,78.2 181.3,76.8 194.15,75.5 207,74.4" fill="none" stroke="#ffa500" stroke-width="1.28" stroke-dasharray="0.01 4.05" stroke-linecap="round"/>
<polyline points="52.8,145 65.65,135.2 78.5,123.9 91.35,113.4 104.2,99.3 117.05,85.7 129.9,80.9 142.75,79.5 155.6,77.9 168.45,76.1 181.3,74.1 194.15,72 207,70" fill="none" stroke="#ffa500" stroke-width="1.1" stroke-linejoin="round"/>
<polygon points="52.8,95.2 65.65,93.2 78.5,85 91.35,73.4 104.2,50.9 117.05,38.6 129.9,31.8 142.75,26.1 155.6,18.5 168.45,20.6 181.3,23.6 194.15,26.6 207,28.4 207,35.9 194.15,33.2 181.3,30.5 168.45,29.1 155.6,28.8 142.75,32.5 129.9,36.3 117.05,44.8 104.2,59.1 91.35,78.2 78.5,90.5 65.65,100.7 52.8,120.5" fill="#a020f0" fill-opacity="0.25"/>
<polyline points="52.8,95.2 65.65,93.2 78.5,85 91.35,73.4 104.2,50.9 117.05,38.6 129.9,31.8 142.75,26.1 155.6,18.5 168.45,20.6 181.3,23.6 194.15,26.6 207,28.4" fill="none" stroke="#a020f0" stroke-width="1.28" stroke-dasharray="0.01 4.05" stroke-linecap="round"/>
<polyline points="52.8,120.5 65.65,100.7 78.5,90.5 91.35,78.2 104.2,59.1 117.05,44.8 129.9,36.3 142.75,32.5 155.6,28.8 168.45,29.1 181.3,30.5 194.15,33.2 207,35.9" fill="none" stroke="#a020f0" stroke-width="1.28" stroke-dasharray="0.01 4.05" stroke-linecap="round"/>
<polyline points="52.8,103.4 65.65,95.9 78.5,87.7 91.35,75.5 104.2,55.7 117.05,42.7 129.9,34.1 142.75,30.2 155.6,26.4 168.45,27.5 181.3,27.7 194.15,28 207,29.4" fill="none" stroke="#a020f0" stroke-width="1.1" stroke-linejoin="round"/>
<polygon points="52.8,80.9 65.65,76.8 78.5,66.2 91.35,66.6 104.2,65.2 117.05,61.1 129.9,62 142.75,63.9 155.6,67 168.45,64.5 181.3,61.8 194.15,59.4 207,57 207,58.8 194.15,62.1 181.3,65.9 168.45,69.3 155.6,73 142.75,68.4 129.9,65.9 117.05,65.2 104.2,68.9 91.35,72 78.5,74.1 65.65,83.6 52.8,99.3" fill="#68b5ee" fill-opacity="0.25"/>
<polyline points="52.8,80.9 65.65,76.8 78.5,66.2 91.35,66.6 104.2,65.2 117.05,61.1 129.9,62 142.75,63.9 155.6,67 168.45,64.5 181.3,61.8 194.15,59.4 207,57" fill="none" stroke="#68b5ee" stroke-width="1.28" stroke-dasharray="0.01 4.05" stroke-linecap="round"/>
<polyline points="52.8,99.3 65.65,83.6 78.5,74.1 91.35,72 104.2,68.9 117.05,65.2 129.9,65.9 142.75,68.4 155.6,73 168.45,69.3 181.3,65.9 194.15,62.1 207,58.8" fill="none" stroke="#68b5ee" stroke-width="1.28" stroke-dasharray="0.01 4.05" stroke-linecap="round"/>
<polyline points="52.8,89.8 65.65,79.5 78.5,70 91.35,68.6 104.2,68 117.05,62.5 129.9,64.8 142.75,67 155.6,69.3 168.45,66.6 181.3,63.9 194.15,60.7 207,57.7" fill="none" stroke="#68b5ee" stroke-width="1.1" stroke-linejoin="round"/>
<path d="M46.3 166.98h6.7M213.45 166.98h-6.7M46.3 157.3h3.4M213.45 157.3h-3.4M46.3 147.62h3.4M213.45 147.62h-3.4M46.3 137.94h3.4M213.45 137.94h-3.4M46.3 128.26h6.7M213.45 128.26h-6.7M46.3 118.58h3.4M213.45 118.58h-3.4M46.3 108.9h3.4M213.45 108.9h-3.4M46.3 99.22h3.4M213.45 99.22h-3.4M46.3 89.54h6.7M213.45 89.54h-6.7M46.3 79.86h3.4M213.45 79.86h-3.4M46.3 70.18h3.4M213.45 70.18h-3.4M46.3 60.5h3.4M213.45 60.5h-3.4M46.3 50.82h6.7M213.45 50.82h-6.7M46.3 41.14h3.4M213.45 41.14h-3.4M46.3 31.46h3.4M213.45 31.46h-3.4M46.3 21.78h3.4M213.45 21.78h-3.4M46.3 12.1h6.7M213.45 12.1h-6.7M47.1 173.4v-6.7M47.1 6.2v6.7M53.12 173.4v-3.4M53.12 6.2v3.4M59.14 173.4v-3.4M59.14 6.2v3.4M65.16 173.4v-3.4M65.16 6.2v3.4M71.18 173.4v-3.4M71.18 6.2v3.4M77.2 173.4v-6.7M77.2 6.2v6.7M83.22 173.4v-3.4M83.22 6.2v3.4M89.24 173.4v-3.4M89.24 6.2v3.4M95.26 173.4v-3.4M95.26 6.2v3.4M101.28 173.4v-3.4M101.28 6.2v3.4M107.3 173.4v-6.7M107.3 6.2v6.7M113.32 173.4v-3.4M113.32 6.2v3.4M119.34 173.4v-3.4M119.34 6.2v3.4M125.36 173.4v-3.4M125.36 6.2v3.4M131.38 173.4v-3.4M131.38 6.2v3.4M137.4 173.4v-6.7M137.4 6.2v6.7M143.42 173.4v-3.4M143.42 6.2v3.4M149.44 173.4v-3.4M149.44 6.2v3.4M155.46 173.4v-3.4M155.46 6.2v3.4M161.48 173.4v-3.4M161.48 6.2v3.4M167.5 173.4v-6.7M167.5 6.2v6.7M173.52 173.4v-3.4M173.52 6.2v3.4M179.54 173.4v-3.4M179.54 6.2v3.4M185.56 173.4v-3.4M185.56 6.2v3.4M191.58 173.4v-3.4M191.58 6.2v3.4M197.6 173.4v-6.7M197.6 6.2v6.7M203.62 173.4v-3.4M203.62 6.2v3.4M209.64 173.4v-3.4M209.64 6.2v3.4" stroke="#000" stroke-width="1.3" fill="none"/>
<rect x="46.3" y="6.2" width="167.15" height="167.2" fill="none" stroke="#000" stroke-width="1.35"/>
<text transform="translate(37.0,12.1) rotate(-90)" text-anchor="middle" font-size="11.3" >1</text>
<text transform="translate(37.0,50.82) rotate(-90)" text-anchor="middle" font-size="11.3" textLength="14.55" lengthAdjust="spacing">0.8</text>
<text transform="translate(37.0,89.54) rotate(-90)" text-anchor="middle" font-size="11.3" textLength="14.55" lengthAdjust="spacing">0.6</text>
<text transform="translate(37.0,128.26) rotate(-90)" text-anchor="middle" font-size="11.3" textLength="14.55" lengthAdjust="spacing">0.4</text>
<text transform="translate(37.0,166.98) rotate(-90)" text-anchor="middle" font-size="11.3" textLength="14.55" lengthAdjust="spacing">0.2</text>
<text x="47.1" y="190.8" text-anchor="middle" font-size="11.6">0</text>
<text x="77.2" y="190.8" text-anchor="middle" font-size="11.6">1</text>
<text x="107.3" y="190.8" text-anchor="middle" font-size="11.6">2</text>
<text x="137.4" y="190.8" text-anchor="middle" font-size="11.6">3</text>
<text x="167.5" y="190.8" text-anchor="middle" font-size="11.6">4</text>
<text x="197.6" y="190.8" text-anchor="middle" font-size="11.6">5</text>
<text transform="translate(17.0,89.7) rotate(-90)" text-anchor="middle" font-size="16.2" textLength="67.63" lengthAdjust="spacing">axial ratio</text>
<g font-size="17"><text x="117.5" y="207.7">r</text><path d="M124.7 210L129.3 194.2" stroke="#000" stroke-width="1.25" fill="none"/><text x="130.6" y="207.7">r</text><text x="136.5" y="210.6" font-size="10.6">h</text></g>
<text x="205.4" y="158.7" text-anchor="end" font-size="15.9" textLength="73.82" lengthAdjust="spacing">Cold th135</text>
</g>
<g transform="translate(0,440)">
<polygon points="52.4,39.4 65.25,42.8 78.1,39.4 90.95,35.3 103.8,47.6 116.65,51 129.5,46.9 142.35,51 155.2,55.4 168.05,57.1 180.9,58.9 193.75,60.5 206.6,61.9 206.6,64.4 193.75,63 180.9,61.2 168.05,59.9 155.2,58.9 142.35,56.7 129.5,54.4 116.65,56.2 103.8,53.7 90.95,39.4 78.1,46.2 65.25,49 52.4,52.4" fill="#ffa500" fill-opacity="0.25"/>
<polyline points="52.4,39.4 65.25,42.8 78.1,39.4 90.95,35.3 103.8,47.6 116.65,51 129.5,46.9 142.35,51 155.2,55.4 168.05,57.1 180.9,58.9 193.75,60.5 206.6,61.9" fill="none" stroke="#ffa500" stroke-width="1.28" stroke-dasharray="0.01 4.05" stroke-linecap="round"/>
<polyline points="52.4,52.4 65.25,49 78.1,46.2 90.95,39.4 103.8,53.7 116.65,56.2 129.5,54.4 142.35,56.7 155.2,58.9 168.05,59.9 180.9,61.2 193.75,63 206.6,64.4" fill="none" stroke="#ffa500" stroke-width="1.28" stroke-dasharray="0.01 4.05" stroke-linecap="round"/>
<polyline points="52.4,44.5 65.25,46.2 78.1,42.1 90.95,37.1 103.8,51 116.65,54.4 129.5,49.9 142.35,53.7 155.2,57.1 168.05,58.5 180.9,59.9 193.75,61.6 206.6,63" fill="none" stroke="#ffa500" stroke-width="1.1" stroke-linejoin="round"/>
<polygon points="52.4,25.8 65.25,29.9 78.1,26.5 90.95,15.8 103.8,14.9 116.65,17.2 129.5,16.6 142.35,19.6 155.2,23.7 168.05,29.9 180.9,34.4 193.75,38.5 206.6,42.1 206.6,45.5 193.75,40.8 180.9,36.3 168.05,32.2 155.2,27.8 142.35,25.8 129.5,25.8 116.65,25.1 103.8,23.5 90.95,23.7 78.1,34.6 65.25,40.8 52.4,44.2" fill="#a020f0" fill-opacity="0.25"/>
<polyline points="52.4,25.8 65.25,29.9 78.1,26.5 90.95,15.8 103.8,14.9 116.65,17.2 129.5,16.6 142.35,19.6 155.2,23.7 168.05,29.9 180.9,34.4 193.75,38.5 206.6,42.1" fill="none" stroke="#a020f0" stroke-width="1.28" stroke-dasharray="0.01 4.05" stroke-linecap="round"/>
<polyline points="52.4,44.2 65.25,40.8 78.1,34.6 90.95,23.7 103.8,23.5 116.65,25.1 129.5,25.8 142.35,25.8 155.2,27.8 168.05,32.2 180.9,36.3 193.75,40.8 206.6,45.5" fill="none" stroke="#a020f0" stroke-width="1.28" stroke-dasharray="0.01 4.05" stroke-linecap="round"/>
<polyline points="52.4,34 65.25,36.3 78.1,31.2 90.95,19.4 103.8,18.3 116.65,18.5 129.5,20.3 142.35,23 155.2,26.5 168.05,31.2 180.9,35.3 193.75,39.4 206.6,43.5" fill="none" stroke="#a020f0" stroke-width="1.1" stroke-linejoin="round"/>
<polygon points="52.4,19.4 65.25,19.9 78.1,22.4 90.95,27.8 103.8,42.5 116.65,44.9 129.5,40.1 142.35,42.8 155.2,44.9 168.05,41.7 180.9,38.7 193.75,36.7 206.6,34 206.6,36.3 193.75,39 180.9,41.2 168.05,44.5 155.2,47.6 142.35,46.9 129.5,45.9 116.65,51.7 103.8,49.6 90.95,35.3 78.1,29.9 65.25,28.5 52.4,26.2" fill="#68b5ee" fill-opacity="0.25"/>
<polyline points="52.4,19.4 65.25,19.9 78.1,22.4 90.95,27.8 103.8,42.5 116.65,44.9 129.5,40.1 142.35,42.8 155.2,44.9 168.05,41.7 180.9,38.7 193.75,36.7 206.6,34" fill="none" stroke="#68b5ee" stroke-width="1.28" stroke-dasharray="0.01 4.05" stroke-linecap="round"/>
<polyline points="52.4,26.2 65.25,28.5 78.1,29.9 90.95,35.3 103.8,49.6 116.65,51.7 129.5,45.9 142.35,46.9 155.2,47.6 168.05,44.5 180.9,41.2 193.75,39 206.6,36.3" fill="none" stroke="#68b5ee" stroke-width="1.28" stroke-dasharray="0.01 4.05" stroke-linecap="round"/>
<polyline points="52.4,22.6 65.25,25.1 78.1,27.5 90.95,31.9 103.8,46.2 116.65,48.5 129.5,43 142.35,44.9 155.2,46.2 168.05,43.1 180.9,40.1 193.75,37.6 206.6,35.3" fill="none" stroke="#68b5ee" stroke-width="1.1" stroke-linejoin="round"/>
<path d="M46.3 166.98h6.7M213.45 166.98h-6.7M46.3 157.3h3.4M213.45 157.3h-3.4M46.3 147.62h3.4M213.45 147.62h-3.4M46.3 137.94h3.4M213.45 137.94h-3.4M46.3 128.26h6.7M213.45 128.26h-6.7M46.3 118.58h3.4M213.45 118.58h-3.4M46.3 108.9h3.4M213.45 108.9h-3.4M46.3 99.22h3.4M213.45 99.22h-3.4M46.3 89.54h6.7M213.45 89.54h-6.7M46.3 79.86h3.4M213.45 79.86h-3.4M46.3 70.18h3.4M213.45 70.18h-3.4M46.3 60.5h3.4M213.45 60.5h-3.4M46.3 50.82h6.7M213.45 50.82h-6.7M46.3 41.14h3.4M213.45 41.14h-3.4M46.3 31.46h3.4M213.45 31.46h-3.4M46.3 21.78h3.4M213.45 21.78h-3.4M46.3 12.1h6.7M213.45 12.1h-6.7M51.36 173.4v-3.4M51.36 6.2v3.4M57.17 173.4v-3.4M57.17 6.2v3.4M62.98 173.4v-3.4M62.98 6.2v3.4M68.79 173.4v-3.4M68.79 6.2v3.4M74.6 173.4v-6.7M74.6 6.2v6.7M80.41 173.4v-3.4M80.41 6.2v3.4M86.22 173.4v-3.4M86.22 6.2v3.4M92.03 173.4v-3.4M92.03 6.2v3.4M97.84 173.4v-3.4M97.84 6.2v3.4M103.65 173.4v-6.7M103.65 6.2v6.7M109.46 173.4v-3.4M109.46 6.2v3.4M115.27 173.4v-3.4M115.27 6.2v3.4M121.08 173.4v-3.4M121.08 6.2v3.4M126.89 173.4v-3.4M126.89 6.2v3.4M132.7 173.4v-6.7M132.7 6.2v6.7M138.51 173.4v-3.4M138.51 6.2v3.4M144.32 173.4v-3.4M144.32 6.2v3.4M150.13 173.4v-3.4M150.13 6.2v3.4M155.94 173.4v-3.4M155.94 6.2v3.4M161.75 173.4v-6.7M161.75 6.2v6.7M167.56 173.4v-3.4M167.56 6.2v3.4M173.37 173.4v-3.4M173.37 6.2v3.4M179.18 173.4v-3.4M179.18 6.2v3.4M184.99 173.4v-3.4M184.99 6.2v3.4M190.8 173.4v-6.7M190.8 6.2v6.7M196.61 173.4v-3.4M196.61 6.2v3.4M202.42 173.4v-3.4M202.42 6.2v3.4M208.23 173.4v-3.4M208.23 6.2v3.4M213.45 173.4v-3.4M213.45 6.2v3.4" stroke="#000" stroke-width="1.3" fill="none"/>
<rect x="46.3" y="6.2" width="167.15" height="167.2" fill="none" stroke="#000" stroke-width="1.35"/>
<text transform="translate(37.0,12.1) rotate(-90)" text-anchor="middle" font-size="11.3" >1</text>
<text transform="translate(37.0,50.82) rotate(-90)" text-anchor="middle" font-size="11.3" textLength="14.55" lengthAdjust="spacing">0.8</text>
<text transform="translate(37.0,89.54) rotate(-90)" text-anchor="middle" font-size="11.3" textLength="14.55" lengthAdjust="spacing">0.6</text>
<text transform="translate(37.0,128.26) rotate(-90)" text-anchor="middle" font-size="11.3" textLength="14.55" lengthAdjust="spacing">0.4</text>
<text transform="translate(37.0,166.98) rotate(-90)" text-anchor="middle" font-size="11.3" textLength="14.55" lengthAdjust="spacing">0.2</text>
<text x="74.6" y="190.8" text-anchor="middle" font-size="11.6">1</text>
<text x="103.65" y="190.8" text-anchor="middle" font-size="11.6">2</text>
<text x="132.7" y="190.8" text-anchor="middle" font-size="11.6">3</text>
<text x="161.75" y="190.8" text-anchor="middle" font-size="11.6">4</text>
<text x="190.8" y="190.8" text-anchor="middle" font-size="11.6">5</text>
<text transform="translate(17.0,89.7) rotate(-90)" text-anchor="middle" font-size="16.2" textLength="67.63" lengthAdjust="spacing">axial ratio</text>
<g font-size="17"><text x="117.5" y="207.7">r</text><path d="M124.7 210L129.3 194.2" stroke="#000" stroke-width="1.25" fill="none"/><text x="130.6" y="207.7">r</text><text x="136.5" y="210.6" font-size="10.6">h</text></g>
<text x="205.4" y="158.7" text-anchor="end" font-size="15.9" textLength="67.4" lengthAdjust="spacing">Slow th45</text>
</g>
<g transform="translate(220,440)">
<polygon points="52.4,35.3 65.25,36.7 78.1,34.4 90.95,36 103.8,52.4 116.65,54.4 129.5,54.6 142.35,55.4 155.2,56.2 168.05,54 180.9,52.1 193.75,49.6 206.6,47.6 206.6,53 193.75,54.8 180.9,56.7 168.05,58.9 155.2,60.5 142.35,59.5 129.5,59.9 116.65,64.6 103.8,57.1 90.95,41.2 78.1,41.5 65.25,44.2 52.4,48.5" fill="#ffa500" fill-opacity="0.25"/>
<polyline points="52.4,35.3 65.25,36.7 78.1,34.4 90.95,36 103.8,52.4 116.65,54.4 129.5,54.6 142.35,55.4 155.2,56.2 168.05,54 180.9,52.1 193.75,49.6 206.6,47.6" fill="none" stroke="#ffa500" stroke-width="1.28" stroke-dasharray="0.01 4.05" stroke-linecap="round"/>
<polyline points="52.4,48.5 65.25,44.2 78.1,41.5 90.95,41.2 103.8,57.1 116.65,64.6 129.5,59.9 142.35,59.5 155.2,60.5 168.05,58.9 180.9,56.7 193.75,54.8 206.6,53" fill="none" stroke="#ffa500" stroke-width="1.28" stroke-dasharray="0.01 4.05" stroke-linecap="round"/>
<polyline points="52.4,39.4 65.25,39.4 78.1,37.6 90.95,38.7 103.8,54.8 116.65,59.5 129.5,57.3 142.35,57.5 155.2,58.1 168.05,56.5 180.9,54.8 193.75,53 206.6,51.3" fill="none" stroke="#ffa500" stroke-width="1.1" stroke-linejoin="round"/>
<polygon points="52.4,12.8 65.25,14.9 78.1,15.3 90.95,14.2 103.8,18.3 116.65,21.7 129.5,26.3 142.35,29.5 155.2,32.2 168.05,34.6 180.9,36.3 193.75,37.4 206.6,38.5 206.6,41.2 193.75,40.1 180.9,38.7 168.05,37.1 155.2,35.3 142.35,33.3 129.5,31.9 116.65,29.9 103.8,24.4 90.95,19 78.1,19.6 65.25,20.7 52.4,29.2" fill="#a020f0" fill-opacity="0.25"/>
<polyline points="52.4,12.8 65.25,14.9 78.1,15.3 90.95,14.2 103.8,18.3 116.65,21.7 129.5,26.3 142.35,29.5 155.2,32.2 168.05,34.6 180.9,36.3 193.75,37.4 206.6,38.5" fill="none" stroke="#a020f0" stroke-width="1.28" stroke-dasharray="0.01 4.05" stroke-linecap="round"/>
<polyline points="52.4,29.2 65.25,20.7 78.1,19.6 90.95,19 103.8,24.4 116.65,29.9 129.5,31.9 142.35,33.3 155.2,35.3 168.05,37.1 180.9,38.7 193.75,40.1 206.6,41.2" fill="none" stroke="#a020f0" stroke-width="1.28" stroke-dasharray="0.01 4.05" stroke-linecap="round"/>
<polyline points="52.4,19.6 65.25,16.2 78.1,18 90.95,16.6 103.8,22.4 116.65,23.7 129.5,28.5 142.35,31.9 155.2,34.4 168.05,36 180.9,37.6 193.75,38.7 206.6,39.8" fill="none" stroke="#a020f0" stroke-width="1.1" stroke-linejoin="round"/>
<polygon points="52.4,27.5 65.25,33.3 78.1,30.8 90.95,32.6 103.8,45.5 116.65,46.9 129.5,41.4 142.35,38.5 155.2,36.3 168.05,33.5 180.9,30.5 193.75,27.5 206.6,24.4 206.6,27.5 193.75,30.3 180.9,33 168.05,36.3 155.2,39.4 142.35,42.5 129.5,45.2 116.65,53 103.8,50.3 90.95,37.6 78.1,36.7 65.25,37.6 52.4,36.7" fill="#68b5ee" fill-opacity="0.25"/>
<polyline points="52.4,27.5 65.25,33.3 78.1,30.8 90.95,32.6 103.8,45.5 116.65,46.9 129.5,41.4 142.35,38.5 155.2,36.3 168.05,33.5 180.9,30.5 193.75,27.5 206.6,24.4" fill="none" stroke="#68b5ee" stroke-width="1.28" stroke-dasharray="0.01 4.05" stroke-linecap="round"/>
<polyline points="52.4,36.7 65.25,37.6 78.1,36.7 90.95,37.6 103.8,50.3 116.65,53 129.5,45.2 142.35,42.5 155.2,39.4 168.05,36.3 180.9,33 193.75,30.3 206.6,27.5" fill="none" stroke="#68b5ee" stroke-width="1.28" stroke-dasharray="0.01 4.05" stroke-linecap="round"/>
<polyline points="52.4,35.3 65.25,35.7 78.1,34 90.95,35.3 103.8,47.6 116.65,50.3 129.5,43 142.35,40.1 155.2,37.6 168.05,34.9 180.9,31.9 193.75,29.2 206.6,26.5" fill="none" stroke="#68b5ee" stroke-width="1.1" stroke-linejoin="round"/>
<path d="M46.3 166.98h6.7M213.45 166.98h-6.7M46.3 157.3h3.4M213.45 157.3h-3.4M46.3 147.62h3.4M213.45 147.62h-3.4M46.3 137.94h3.4M213.45 137.94h-3.4M46.3 128.26h6.7M213.45 128.26h-6.7M46.3 118.58h3.4M213.45 118.58h-3.4M46.3 108.9h3.4M213.45 108.9h-3.4M46.3 99.22h3.4M213.45 99.22h-3.4M46.3 89.54h6.7M213.45 89.54h-6.7M46.3 79.86h3.4M213.45 79.86h-3.4M46.3 70.18h3.4M213.45 70.18h-3.4M46.3 60.5h3.4M213.45 60.5h-3.4M46.3 50.82h6.7M213.45 50.82h-6.7M46.3 41.14h3.4M213.45 41.14h-3.4M46.3 31.46h3.4M213.45 31.46h-3.4M46.3 21.78h3.4M213.45 21.78h-3.4M46.3 12.1h6.7M213.45 12.1h-6.7M46.3 173.4v-6.7M46.3 6.2v6.7M51.74 173.4v-3.4M51.74 6.2v3.4M57.46 173.4v-3.4M57.46 6.2v3.4M63.17 173.4v-3.4M63.17 6.2v3.4M68.89 173.4v-3.4M68.89 6.2v3.4M74.6 173.4v-6.7M74.6 6.2v6.7M80.31 173.4v-3.4M80.31 6.2v3.4M86.03 173.4v-3.4M86.03 6.2v3.4M91.74 173.4v-3.4M91.74 6.2v3.4M97.46 173.4v-3.4M97.46 6.2v3.4M103.17 173.4v-6.7M103.17 6.2v6.7M108.88 173.4v-3.4M108.88 6.2v3.4M114.6 173.4v-3.4M114.6 6.2v3.4M120.31 173.4v-3.4M120.31 6.2v3.4M126.03 173.4v-3.4M126.03 6.2v3.4M131.74 173.4v-6.7M131.74 6.2v6.7M137.45 173.4v-3.4M137.45 6.2v3.4M143.17 173.4v-3.4M143.17 6.2v3.4M148.88 173.4v-3.4M148.88 6.2v3.4M154.6 173.4v-3.4M154.6 6.2v3.4M160.31 173.4v-6.7M160.31 6.2v6.7M166.02 173.4v-3.4M166.02 6.2v3.4M171.74 173.4v-3.4M171.74 6.2v3.4M177.45 173.4v-3.4M177.45 6.2v3.4M183.17 173.4v-3.4M183.17 6.2v3.4M188.88 173.4v-6.7M188.88 6.2v6.7M194.59 173.4v-3.4M194.59 6.2v3.4M200.31 173.4v-3.4M200.31 6.2v3.4M206.02 173.4v-3.4M206.02 6.2v3.4M211.74 173.4v-3.4M211.74 6.2v3.4" stroke="#000" stroke-width="1.3" fill="none"/>
<rect x="46.3" y="6.2" width="167.15" height="167.2" fill="none" stroke="#000" stroke-width="1.35"/>
<text transform="translate(37.0,12.1) rotate(-90)" text-anchor="middle" font-size="11.3" >1</text>
<text transform="translate(37.0,50.82) rotate(-90)" text-anchor="middle" font-size="11.3" textLength="14.55" lengthAdjust="spacing">0.8</text>
<text transform="translate(37.0,89.54) rotate(-90)" text-anchor="middle" font-size="11.3" textLength="14.55" lengthAdjust="spacing">0.6</text>
<text transform="translate(37.0,128.26) rotate(-90)" text-anchor="middle" font-size="11.3" textLength="14.55" lengthAdjust="spacing">0.4</text>
<text transform="translate(37.0,166.98) rotate(-90)" text-anchor="middle" font-size="11.3" textLength="14.55" lengthAdjust="spacing">0.2</text>
<text x="74.6" y="190.8" text-anchor="middle" font-size="11.6">1</text>
<text x="103.17" y="190.8" text-anchor="middle" font-size="11.6">2</text>
<text x="131.74" y="190.8" text-anchor="middle" font-size="11.6">3</text>
<text x="160.31" y="190.8" text-anchor="middle" font-size="11.6">4</text>
<text x="188.88" y="190.8" text-anchor="middle" font-size="11.6">5</text>
<text transform="translate(17.0,89.7) rotate(-90)" text-anchor="middle" font-size="16.2" textLength="67.63" lengthAdjust="spacing">axial ratio</text>
<g font-size="17"><text x="117.5" y="207.7">r</text><path d="M124.7 210L129.3 194.2" stroke="#000" stroke-width="1.25" fill="none"/><text x="130.6" y="207.7">r</text><text x="136.5" y="210.6" font-size="10.6">h</text></g>
<text x="205.4" y="94.0" text-anchor="end" font-size="15.9" textLength="67.4" lengthAdjust="spacing">Slow th90</text>
<path d="M55.8 134.2H76.9" stroke="#ffa500" stroke-width="1.1"/>
<text x="86.5" y="137.6" font-size="11.0">short/long</text>
<path d="M55.8 147.35H76.9" stroke="#a020f0" stroke-width="1.1"/>
<text x="86.5" y="150.75" font-size="11.0">middle/long</text>
<path d="M55.8 160.5H76.9" stroke="#68b5ee" stroke-width="1.1"/>
<text x="86.5" y="163.9" font-size="11.0">short/middle</text>
</g>
<g transform="translate(440,440)">
<polygon points="52.4,38.7 65.25,43.1 78.1,38.7 90.95,37.6 103.8,51.7 116.65,55.4 129.5,52.4 142.35,54 155.2,55.8 168.05,54.4 180.9,53 193.75,51.3 206.6,49.6 206.6,51.3 193.75,53.5 180.9,55.4 168.05,57.5 155.2,59.5 142.35,56.7 129.5,55.2 116.65,58.5 103.8,54.4 90.95,40.4 78.1,42.5 65.25,48.5 52.4,56.2" fill="#ffa500" fill-opacity="0.25"/>
<polyline points="52.4,38.7 65.25,43.1 78.1,38.7 90.95,37.6 103.8,51.7 116.65,55.4 129.5,52.4 142.35,54 155.2,55.8 168.05,54.4 180.9,53 193.75,51.3 206.6,49.6" fill="none" stroke="#ffa500" stroke-width="1.28" stroke-dasharray="0.01 4.05" stroke-linecap="round"/>
<polyline points="52.4,56.2 65.25,48.5 78.1,42.5 90.95,40.4 103.8,54.4 116.65,58.5 129.5,55.2 142.35,56.7 155.2,59.5 168.05,57.5 180.9,55.4 193.75,53.5 206.6,51.3" fill="none" stroke="#ffa500" stroke-width="1.28" stroke-dasharray="0.01 4.05" stroke-linecap="round"/>
<polyline points="52.4,45.5 65.25,45.5 78.1,40.8 90.95,38.7 103.8,53 116.65,57.1 129.5,53.8 142.35,55.1 155.2,57.5 168.05,55.8 180.9,54 193.75,52.4 206.6,50.3" fill="none" stroke="#ffa500" stroke-width="1.1" stroke-linejoin="round"/>
<polygon points="52.4,19.4 65.25,26.5 78.1,25.1 90.95,15.8 103.8,15.5 116.65,15.5 129.5,15.4 142.35,15.8 155.2,14.5 168.05,17.6 180.9,21.3 193.75,25.4 206.6,28.1 206.6,29.9 193.75,28.1 180.9,26.2 168.05,24.8 155.2,23 142.35,20.7 129.5,19.6 116.65,21 103.8,20.3 90.95,21.3 78.1,28.5 65.25,32.6 52.4,42.8" fill="#a020f0" fill-opacity="0.25"/>
<polyline points="52.4,19.4 65.25,26.5 78.1,25.1 90.95,15.8 103.8,15.5 116.65,15.5 129.5,15.4 142.35,15.8 155.2,14.5 168.05,17.6 180.9,21.3 193.75,25.4 206.6,28.1" fill="none" stroke="#a020f0" stroke-width="1.28" stroke-dasharray="0.01 4.05" stroke-linecap="round"/>
<polyline points="52.4,42.8 65.25,32.6 78.1,28.5 90.95,21.3 103.8,20.3 116.65,21 129.5,19.6 142.35,20.7 155.2,23 168.05,24.8 180.9,26.2 193.75,28.1 206.6,29.9" fill="none" stroke="#a020f0" stroke-width="1.28" stroke-dasharray="0.01 4.05" stroke-linecap="round"/>
<polyline points="52.4,31.9 65.25,29.2 78.1,26.2 90.95,18 103.8,18.5 116.65,17.6 129.5,17.8 142.35,18.5 155.2,21 168.05,23 180.9,25.1 193.75,27.1 206.6,29.2" fill="none" stroke="#a020f0" stroke-width="1.1" stroke-linejoin="round"/>
<polygon points="52.4,19.6 65.25,26.5 78.1,26.5 90.95,31.9 103.8,45.5 116.65,49.9 129.5,47.4 142.35,48 155.2,48.5 168.05,44.9 180.9,41.7 193.75,38.5 206.6,35.3 206.6,37.6 193.75,41.5 180.9,46.6 168.05,52.4 155.2,56.2 142.35,54.4 129.5,52.2 116.65,54 103.8,50.3 90.95,36.7 78.1,30.5 65.25,31.2 52.4,34" fill="#68b5ee" fill-opacity="0.25"/>
<polyline points="52.4,19.6 65.25,26.5 78.1,26.5 90.95,31.9 103.8,45.5 116.65,49.9 129.5,47.4 142.35,48 155.2,48.5 168.05,44.9 180.9,41.7 193.75,38.5 206.6,35.3" fill="none" stroke="#68b5ee" stroke-width="1.28" stroke-dasharray="0.01 4.05" stroke-linecap="round"/>
<polyline points="52.4,34 65.25,31.2 78.1,30.5 90.95,36.7 103.8,50.3 116.65,54 129.5,52.2 142.35,54.4 155.2,56.2 168.05,52.4 180.9,46.6 193.75,41.5 206.6,37.6" fill="none" stroke="#68b5ee" stroke-width="1.28" stroke-dasharray="0.01 4.05" stroke-linecap="round"/>
<polyline points="52.4,32.5 65.25,29.8 78.1,27.8 90.95,34 103.8,48.3 116.65,52.4 129.5,50.1 142.35,50.3 155.2,49.9 168.05,46.2 180.9,42.8 193.75,39.8 206.6,36.7" fill="none" stroke="#68b5ee" stroke-width="1.1" stroke-linejoin="round"/>
<path d="M46.3 166.98h6.7M213.45 166.98h-6.7M46.3 157.3h3.4M213.45 157.3h-3.4M46.3 147.62h3.4M213.45 147.62h-3.4M46.3 137.94h3.4M213.45 137.94h-3.4M46.3 128.26h6.7M213.45 128.26h-6.7M46.3 118.58h3.4M213.45 118.58h-3.4M46.3 108.9h3.4M213.45 108.9h-3.4M46.3 99.22h3.4M213.45 99.22h-3.4M46.3 89.54h6.7M213.45 89.54h-6.7M46.3 79.86h3.4M213.45 79.86h-3.4M46.3 70.18h3.4M213.45 70.18h-3.4M46.3 60.5h3.4M213.45 60.5h-3.4M46.3 50.82h6.7M213.45 50.82h-6.7M46.3 41.14h3.4M213.45 41.14h-3.4M46.3 31.46h3.4M213.45 31.46h-3.4M46.3 21.78h3.4M213.45 21.78h-3.4M46.3 12.1h6.7M213.45 12.1h-6.7M46.38 173.4v-6.7M46.38 6.2v6.7M51.98 173.4v-3.4M51.98 6.2v3.4M57.59 173.4v-3.4M57.59 6.2v3.4M63.19 173.4v-3.4M63.19 6.2v3.4M68.8 173.4v-3.4M68.8 6.2v3.4M74.4 173.4v-6.7M74.4 6.2v6.7M80 173.4v-3.4M80 6.2v3.4M85.61 173.4v-3.4M85.61 6.2v3.4M91.21 173.4v-3.4M91.21 6.2v3.4M96.82 173.4v-3.4M96.82 6.2v3.4M102.42 173.4v-6.7M102.42 6.2v6.7M108.02 173.4v-3.4M108.02 6.2v3.4M113.63 173.4v-3.4M113.63 6.2v3.4M119.23 173.4v-3.4M119.23 6.2v3.4M124.84 173.4v-3.4M124.84 6.2v3.4M130.44 173.4v-6.7M130.44 6.2v6.7M136.04 173.4v-3.4M136.04 6.2v3.4M141.65 173.4v-3.4M141.65 6.2v3.4M147.25 173.4v-3.4M147.25 6.2v3.4M152.86 173.4v-3.4M152.86 6.2v3.4M158.46 173.4v-6.7M158.46 6.2v6.7M164.06 173.4v-3.4M164.06 6.2v3.4M169.67 173.4v-3.4M169.67 6.2v3.4M175.27 173.4v-3.4M175.27 6.2v3.4M180.88 173.4v-3.4M180.88 6.2v3.4M186.48 173.4v-6.7M186.48 6.2v6.7M192.08 173.4v-3.4M192.08 6.2v3.4M197.69 173.4v-3.4M197.69 6.2v3.4M203.29 173.4v-3.4M203.29 6.2v3.4M208.9 173.4v-3.4M208.9 6.2v3.4" stroke="#000" stroke-width="1.3" fill="none"/>
<rect x="46.3" y="6.2" width="167.15" height="167.2" fill="none" stroke="#000" stroke-width="1.35"/>
<text transform="translate(37.0,12.1) rotate(-90)" text-anchor="middle" font-size="11.3" >1</text>
<text transform="translate(37.0,50.82) rotate(-90)" text-anchor="middle" font-size="11.3" textLength="14.55" lengthAdjust="spacing">0.8</text>
<text transform="translate(37.0,89.54) rotate(-90)" text-anchor="middle" font-size="11.3" textLength="14.55" lengthAdjust="spacing">0.6</text>
<text transform="translate(37.0,128.26) rotate(-90)" text-anchor="middle" font-size="11.3" textLength="14.55" lengthAdjust="spacing">0.4</text>
<text transform="translate(37.0,166.98) rotate(-90)" text-anchor="middle" font-size="11.3" textLength="14.55" lengthAdjust="spacing">0.2</text>
<text x="74.4" y="190.8" text-anchor="middle" font-size="11.6">1</text>
<text x="102.42" y="190.8" text-anchor="middle" font-size="11.6">2</text>
<text x="130.44" y="190.8" text-anchor="middle" font-size="11.6">3</text>
<text x="158.46" y="190.8" text-anchor="middle" font-size="11.6">4</text>
<text x="186.48" y="190.8" text-anchor="middle" font-size="11.6">5</text>
<text transform="translate(17.0,89.7) rotate(-90)" text-anchor="middle" font-size="16.2" textLength="67.63" lengthAdjust="spacing">axial ratio</text>
<g font-size="17"><text x="117.5" y="207.7">r</text><path d="M124.7 210L129.3 194.2" stroke="#000" stroke-width="1.25" fill="none"/><text x="130.6" y="207.7">r</text><text x="136.5" y="210.6" font-size="10.6">h</text></g>
<text x="205.4" y="158.7" text-anchor="end" font-size="15.9" textLength="75.65" lengthAdjust="spacing">Slow th135</text>
</g>
</svg>
</body></html>
